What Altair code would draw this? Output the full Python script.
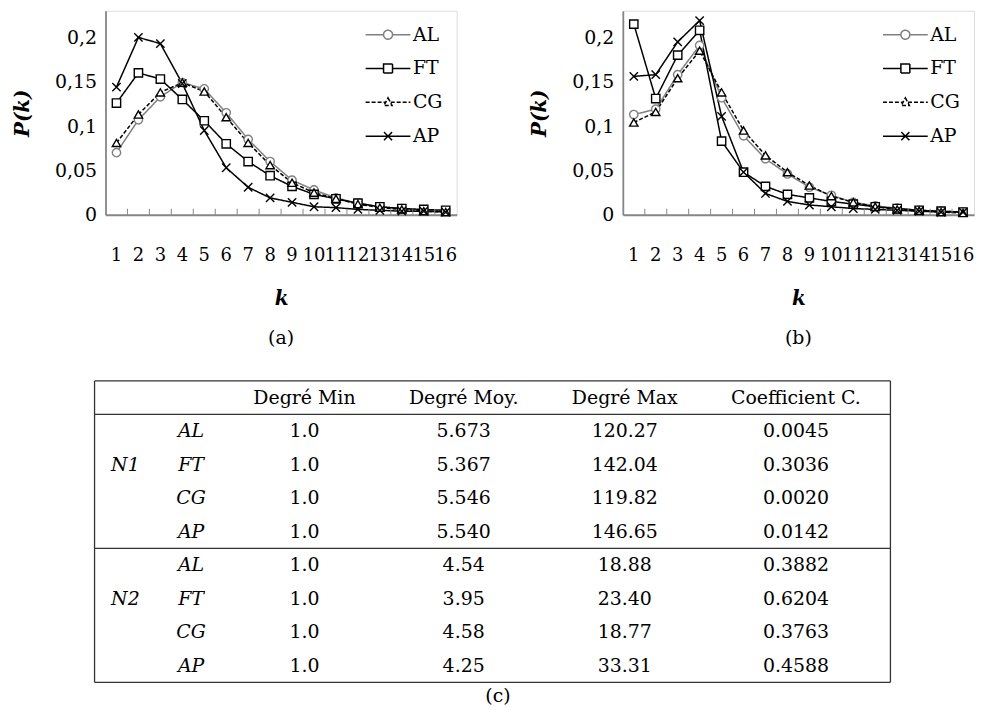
import altair as alt
import pandas as pd

FONT = "DejaVu Serif"

k_values = [1, 2, 3, 4, 5, 6, 7, 8, 9, 10, 11, 12, 13, 14, 15, 16]
series_names = ["AL", "FT", "CG", "AP"]

# panel (a)
a_AL = [0.070, 0.107, 0.133, 0.149, 0.142, 0.115, 0.085, 0.060, 0.039, 0.028, 0.019, 0.013, 0.009, 0.007, 0.005, 0.004]
a_FT = [0.126, 0.160, 0.153, 0.130, 0.106, 0.080, 0.060, 0.044, 0.032, 0.023, 0.018, 0.013, 0.009, 0.007, 0.006, 0.005]
a_CG = [0.081, 0.113, 0.138, 0.149, 0.139, 0.110, 0.081, 0.056, 0.036, 0.025, 0.018, 0.012, 0.008, 0.006, 0.004, 0.003]
a_AP = [0.144, 0.200, 0.193, 0.148, 0.095, 0.053, 0.031, 0.019, 0.014, 0.009, 0.008, 0.006, 0.005, 0.004, 0.004, 0.003]

# panel (b)
b_AL = [0.113, 0.119, 0.158, 0.191, 0.132, 0.089, 0.063, 0.046, 0.031, 0.022, 0.014, 0.010, 0.0075, 0.005, 0.004, 0.003]
b_FT = [0.215, 0.131, 0.180, 0.208, 0.083, 0.048, 0.032, 0.023, 0.019, 0.015, 0.012, 0.009, 0.007, 0.005, 0.004, 0.003]
b_CG = [0.104, 0.116, 0.154, 0.185, 0.138, 0.095, 0.067, 0.048, 0.033, 0.021, 0.014, 0.009, 0.006, 0.0045, 0.003, 0.002]
b_AP = [0.156, 0.158, 0.195, 0.219, 0.111, 0.048, 0.024, 0.015, 0.011, 0.009, 0.007, 0.006, 0.005, 0.004, 0.003, 0.003]

y_ticks = [0, 0.05, 0.1, 0.15, 0.2]

# table (c)
groups = ["N1", "N2"]
algos = ["AL", "FT", "CG", "AP"]
headers = ["Degré Min", "Degré Moy.", "Degré Max", "Coefficient C."]
deg_min = ["1.0", "1.0", "1.0", "1.0", "1.0", "1.0", "1.0", "1.0"]
deg_moy = ["5.673", "5.367", "5.546", "5.540", "4.54", "3.95", "4.58", "4.25"]
deg_max = ["120.27", "142.04", "119.82", "146.65", "18.88", "23.40", "18.77", "33.31"]
coef_c = ["0.0045", "0.3036", "0.0020", "0.0142", "0.3882", "0.6204", "0.3763", "0.4588"]

# ---------------- styles ----------------
line_colors = ["#808080", "#000000", "#000000", "#000000"]
dashes = [[1, 0], [1, 0], [4, 2], [1, 0]]
X_PATH = "M-1,-1L1,1M-1,1L1,-1"
marker_shapes = ["circle", "square", "triangle-up", X_PATH]
legend_shapes = [
    "M-2.5,0L-0.5,0M0.5,0L2.5,0M-0.5,0A0.5,0.5,0,1,1,0.5,0A0.5,0.5,0,1,1,-0.5,0",
    "M-2.5,0L-0.5,0M0.5,0L2.5,0M-0.5,-0.5L0.5,-0.5L0.5,0.5L-0.5,0.5Z",
    "M-2.5,0L-0.3,0M0.3,0L2.5,0M0,-0.5L0.45,0.35L-0.45,0.35Z",
    "M-2.5,0L2.5,0M-0.45,-0.45L0.45,0.45M-0.45,0.45L0.45,-0.45",
]

W, H = 353, 205


def panel(vals, caption):
    rows = []
    for s, v in zip(series_names, vals):
        for kk, p in zip(k_values, v):
            rows.append({"k": kk, "P": p, "series": s})
    df = pd.DataFrame(rows)

    xscale = alt.Scale(type="band", paddingInner=0, paddingOuter=0, domain=k_values)
    xaxis = alt.Axis(
        title="k", titleFontStyle="italic", titleFontWeight="bold", titleFontSize=20,
        titleFont=FONT, titlePadding=24, labelFont=FONT, labelFontSize=18, labelAngle=0,
        labelPadding=32, ticks=False, labelOverlap=False, grid=False,
        domainColor="#868686", domainWidth=1.8, labelColor="#000", titleColor="#000",
    )
    yscale = alt.Scale(domain=[0, 0.23], nice=False)
    yaxis = alt.Axis(
        title="P(k)", titleFontStyle="italic", titleFontWeight="bold", titleFontSize=20,
        titleFont=FONT, titlePadding=22, labelFont=FONT, labelFontSize=19,
        values=y_ticks, labelExpr="replace(format(datum.value, '~g'), '.', ',')",
        labelPadding=9, ticks=False, grid=False, domainColor="#868686", domainWidth=1.8,
        labelColor="#000", titleColor="#000",
    )
    x = alt.X("k:O", scale=xscale, axis=xaxis)
    y = alt.Y("P:Q", scale=yscale, axis=yaxis)
    sdom = series_names

    lines = alt.Chart(df).mark_line(strokeWidth=1.5).encode(
        x=x, y=y,
        color=alt.Color("series:N", scale=alt.Scale(domain=sdom, range=line_colors), legend=None),
        strokeDash=alt.StrokeDash("series:N", scale=alt.Scale(domain=sdom, range=dashes), legend=None),
    )
    points = alt.Chart(df).mark_point(filled=False, fill="white", size=70, strokeWidth=1.4, opacity=1).encode(
        x=x, y=y,
        shape=alt.Shape("series:N", scale=alt.Scale(domain=sdom, range=marker_shapes), legend=None),
        color=alt.Color("series:N", scale=alt.Scale(domain=sdom, range=line_colors), legend=None),
    )
    tick_df = pd.DataFrame({"k": k_values[1:]})
    ticks = alt.Chart(tick_df).mark_rule(color="#868686", strokeWidth=1).encode(
        x=alt.X("k:O", scale=xscale, axis=xaxis, bandPosition=0),
        y=alt.value(H), y2=alt.value(H - 6),
    )
    leg = alt.Legend(
        title=None, orient="top-right", offset=14, labelFont=FONT, labelFontSize=19,
        symbolSize=324, symbolStrokeWidth=1.5, labelOffset=15, rowPadding=14, padding=0,
        labelColor="#000",
    )
    legend_layer = alt.Chart(df).transform_filter("false").mark_point(
        filled=False, size=324, strokeWidth=1.5, opacity=1
    ).encode(
        x=x, y=y,
        shape=alt.Shape("series:N", scale=alt.Scale(domain=sdom, range=legend_shapes), legend=leg),
        color=alt.Color("series:N", scale=alt.Scale(domain=sdom, range=line_colors), legend=leg),
        strokeDash=alt.StrokeDash("series:N", scale=alt.Scale(domain=sdom, range=dashes), legend=leg),
    )
    return alt.layer(lines, points, ticks, legend_layer).resolve_scale(
        shape="independent", color="independent", strokeDash="independent"
    ).properties(
        width=W, height=H,
        title=alt.TitleParams(caption, orient="bottom", offset=21, font=FONT, fontSize=19,
                              fontWeight="normal", color="#000"),
    )


pa = panel([a_AL, a_FT, a_CG, a_AP], "(a)")
pb = panel([b_AL, b_FT, b_CG, b_AP], "(b)")
top = alt.hconcat(pa, pb, spacing=72).resolve_scale(
    shape="independent", color="independent", strokeDash="independent"
).resolve_legend(shape="independent", color="independent", strokeDash="independent")

# ---------------- table ----------------
TW, TH = 789, 303
row_ids = ["h"] + ["r%d" % i for i in range(8)]
# column stops: left border, group, label, 4 value columns, right border
col_stops = [-1, 0, 1, 2, 3, 4, 5, 6]
col_pos = [-11, 20, 86, 200, 360, 522, 694, 789]
cells = []
for ci, htxt in enumerate(headers):
    cells.append({"row": "h", "ci": ci + 2, "text": htxt, "kind": "num"})
value_cols = [deg_min, deg_moy, deg_max, coef_c]
for gi, g in enumerate(groups):
    for ai, a in enumerate(algos):
        r = gi * 4 + ai
        rid = "r%d" % r
        if ai == 1:
            cells.append({"row": rid, "ci": 0, "text": g, "kind": "ital"})
        cells.append({"row": rid, "ci": 1, "text": a, "kind": "ital"})
        for ci, col in enumerate(value_cols):
            cells.append({"row": rid, "ci": ci + 2, "text": col[r], "kind": "num"})
tdf = pd.DataFrame(cells)

txs = alt.Scale(domain=col_stops, range=col_pos)
tx = alt.X("ci:Q", scale=txs, axis=None)
tys = alt.Scale(type="band", domain=row_ids, paddingInner=0, paddingOuter=0)
ty = alt.Y("row:N", scale=tys, axis=None)

txt_num = alt.Chart(tdf).transform_filter("datum.kind == 'num'").mark_text(
    font=FONT, fontSize=19, color="#000", baseline="middle"
).encode(x=tx, y=ty, text="text:N")
txt_it = alt.Chart(tdf).transform_filter("datum.kind == 'ital'").mark_text(
    font=FONT, fontSize=19, fontStyle="italic", color="#000", baseline="middle"
).encode(x=tx, y=ty, text="text:N")

hline_top_df = pd.DataFrame({"row": ["h", "r0", "r4"]})
hlines_top = alt.Chart(hline_top_df).mark_rule(color="#333", strokeWidth=1.3).encode(
    y=alt.Y("row:N", scale=tys, axis=None, bandPosition=0),
    x=alt.X(datum=col_stops[0], type="quantitative", scale=txs, axis=None),
    x2=alt.X2(datum=col_stops[-1]),
)
hline_bot_df = pd.DataFrame({"row": [row_ids[-1]]})
hlines_bot = alt.Chart(hline_bot_df).mark_rule(color="#333", strokeWidth=1.3).encode(
    y=alt.Y("row:N", scale=tys, axis=None, bandPosition=1),
    x=alt.X(datum=col_stops[0], type="quantitative", scale=txs, axis=None),
    x2=alt.X2(datum=col_stops[-1]),
)
vline_df = pd.DataFrame({"ci": [col_stops[0], col_stops[-1]]})
vlines = alt.Chart(vline_df).mark_rule(color="#333", strokeWidth=1.3).encode(
    x=alt.X("ci:Q", scale=txs, axis=None),
)

table = alt.layer(hlines_top, hlines_bot, vlines, txt_num, txt_it).properties(
    width=TW, height=TH,
    view=alt.ViewBackground(stroke="transparent"),
    title=alt.TitleParams("(c)", orient="bottom", offset=4, font=FONT, fontSize=19,
                          fontWeight="normal", color="#000"),
)

chart = alt.vconcat(top, table, spacing=30).properties(
    padding={"left": 4, "top": 0, "right": 0, "bottom": 0}
).configure_view(stroke="#333", strokeWidth=1.3).configure(background="white")

chart.save("out.html", embed_options={"renderer": "svg", "actions": False})
